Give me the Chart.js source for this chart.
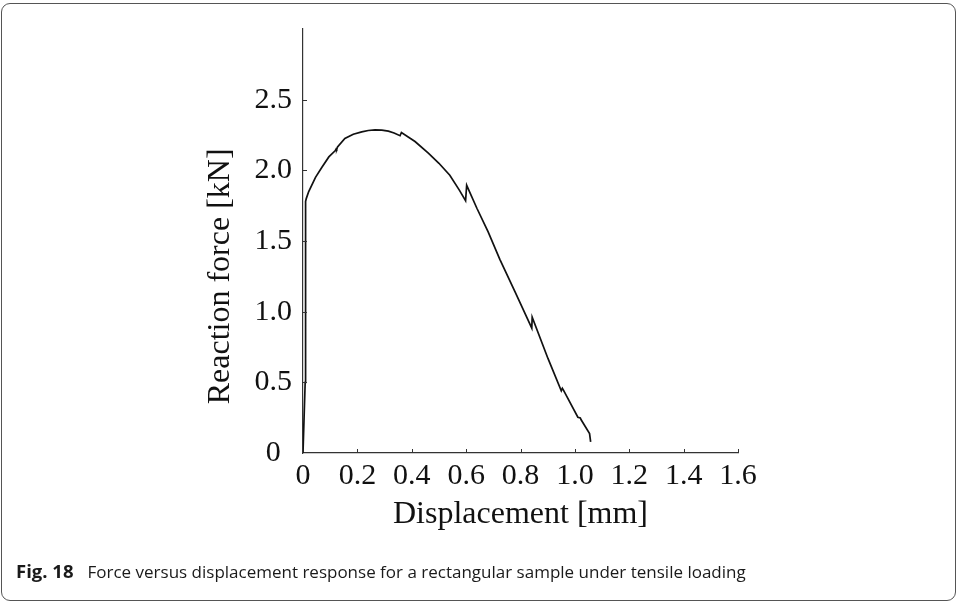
<!doctype html>
<html>

<head>
    <title>Force versus displacement</title>
    <script src="https://cdn.jsdelivr.net/npm/chart.js@4.4.0/dist/chart.umd.min.js"></script>
	<style>
	body { margin: 0; background: #fff; }
	#frame {
		position: absolute; left: 1px; top: 3px; width: 953px; height: 596px;
		border: 1.5px solid #555; border-radius: 9px; pointer-events: none;
	}
	#chart-area { position: absolute; left: 0; top: 0; }
	#caption {
		position: absolute; left: 16px; top: 561px; line-height: 20px;
		font-family: "Open Sans", sans-serif; font-size: 17px; color: #1a1a1a;
		white-space: nowrap;
	}
	#caption b { font-size: 18.5px; margin-right: 14px; }
	</style>
</head>

<body>
	<canvas id="chart-area" width="958" height="603"></canvas>
	<div id="frame"></div>
	<div id="caption"><b>Fig. 18</b>Force versus displacement response for a rectangular sample under tensile loading</div>
	<script>
		// displacement [mm] and reaction force [kN]
		var displacement = [0, 0.008, 0.0095, 0.012, 0.021, 0.046, 0.069, 0.095, 0.118, 0.122, 0.124, 0.127,
			0.154, 0.185, 0.216, 0.24, 0.265, 0.29, 0.314, 0.335, 0.357, 0.362, 0.412, 0.461, 0.50, 0.54,
			0.575, 0.598, 0.602, 0.64, 0.681, 0.724, 0.78, 0.8415, 0.843, 0.901, 0.950, 0.954, 0.958,
			1.011, 1.020, 1.023, 1.054, 1.058];
		var force = [0, 0.5, 1.78, 1.80, 1.85, 1.95, 2.02, 2.095, 2.138, 2.152, 2.148, 2.165,
			2.226, 2.255, 2.272, 2.282, 2.286, 2.284, 2.277, 2.264, 2.245, 2.268, 2.204, 2.122, 2.05, 1.965,
			1.86, 1.785, 1.894, 1.73, 1.565, 1.37, 1.14, 0.884, 0.961, 0.669, 0.44, 0.458, 0.445,
			0.253, 0.248, 0.235, 0.137, 0.079];

		var xMin = 0, xMax = 1.6, xStep = 0.2;
		var yMin = 0, yMax = 3.0, yStep = 0.5;
		var xTitle = 'Displacement [mm]';
		var yTitle = 'Reaction force [kN]';

		var serif = '"Liberation Serif", "Times New Roman", serif';
		var axisColor = '#333';

		function fmt(v) { return v === 0 ? '0' : v.toFixed(1); }

		var points = displacement.map(function (d, i) { return { x: d, y: force[i] }; });

		// short inward tick marks plus the y title centred on the labelled range
		var axisExtras = {
			id: 'axisExtras',
			afterDraw: function (chart) {
				var ctx = chart.ctx, xs = chart.scales.x, ys = chart.scales.y;
				ctx.save();
				ctx.strokeStyle = axisColor;
				ctx.lineWidth = 1;
				ctx.beginPath();
				ys.ticks.forEach(function (t) {
					if (t.value <= yMin || t.value >= yMax) return;
					var py = Math.round(ys.getPixelForValue(t.value)) + 0.5;
					ctx.moveTo(ys.right, py); ctx.lineTo(ys.right + 4, py);
				});
				xs.ticks.forEach(function (t) {
					if (t.value <= xMin) return;
					var px = Math.round(xs.getPixelForValue(t.value)) + 0.5;
					ctx.moveTo(px, xs.top); ctx.lineTo(px, xs.top - 4);
				});
				ctx.stroke();

				ctx.fillStyle = '#111';
				ctx.font = '32px ' + serif;
				ctx.textAlign = 'center';
				ctx.textBaseline = 'middle';
				ctx.translate(ys.left + 24, ys.getPixelForValue((yMin + yMax - yStep) / 2));
				ctx.rotate(-Math.PI / 2);
				ctx.fillText(yTitle, 0, 0);
				ctx.restore();
			}
		};

		var ctx = document.getElementById('chart-area').getContext('2d');
		window.myLine = new Chart(ctx, {
			type: 'line',
			data: {
				datasets: [{
					data: points,
					borderColor: '#111',
					borderWidth: 1.7,
					pointRadius: 0,
					tension: 0,
					fill: false
				}]
			},
			options: {
				responsive: false,
				animation: false,
				layout: { padding: { left: 197, top: 23, right: 220, bottom: 65 } },
				plugins: { legend: { display: false }, tooltip: { enabled: false } },
				scales: {
					x: {
						type: 'linear',
						min: xMin, max: xMax,
						afterFit: function (s) { s.height = 85; },
						grid: { display: true, drawOnChartArea: false, drawTicks: false },
						border: { display: true, color: axisColor, width: 1.2 },
						ticks: {
							stepSize: xStep, padding: 5, color: '#111',
							font: { family: serif, size: 30 },
							callback: function (v) { return fmt(v); }
						},
						title: { display: true, text: xTitle, color: '#111', font: { family: serif, size: 32 } }
					},
					y: {
						type: 'linear',
						min: yMin, max: yMax,
						afterFit: function (s) { s.width = 106; },
						grid: { display: true, drawOnChartArea: false, drawTicks: false },
						border: { display: true, color: axisColor, width: 1.2 },
						ticks: {
							stepSize: yStep, padding: 11, crossAlign: 'center', color: '#111',
							font: { family: serif, size: 30 },
							callback: function (v) { return v >= yMax ? '' : fmt(v); }
						}
					}
				}
			},
			plugins: [axisExtras]
		});
	</script>
</body>

</html>
